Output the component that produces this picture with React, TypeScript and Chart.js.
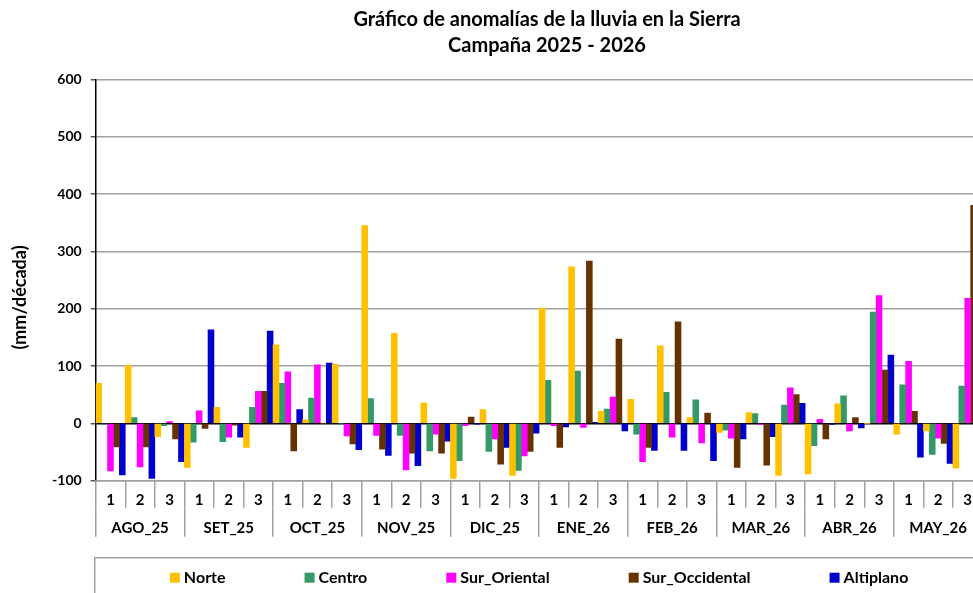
import React, { useEffect, useRef } from 'react';
import { Chart, registerables } from 'chart.js';

Chart.register(...registerables);

const FONT = 'Lato, "Open Sans", sans-serif';

const months = ['AGO_25', 'SET_25', 'OCT_25', 'NOV_25', 'DIC_25', 'ENE_26', 'FEB_26', 'MAR_26', 'ABR_26', 'MAY_26'];
const decades = ['1', '2', '3'];
const decadeLabels = months.flatMap(() => decades);
const monthLabels = months.flatMap((m) => ['', m, '']);

const titleLines = ['Gráfico de anomalías de la lluvia en la Sierra', 'Campaña 2025 - 2026'];
const yTitle = '(mm/década)';
const yMin = -100;
const yMax = 600;
const yStep = 100;

const seriesNames = ['Norte', 'Centro', 'Sur_Oriental', 'Sur_Occidental', 'Altiplano'];
const seriesColors = ['#FFC000', '#339966', '#FF00FF', '#663300', '#0000CC'];

const norte = [70, 101, -23, -77, 28, -42, 137, 6, 103, 345, 157, 36, -96, 24, -91, 201, 273, 21, 42, 135, 10, -16, 19, -91, -88, 34, 0, -19, -13, -78];
const centro = [-2, 10, -4, -33, -32, 28, 70, 44, -1, 43, -21, -48, -65, -49, -82, 75, 91, 25, -19, 54, 41, -12, 17, 32, -39, 48, 194, 67, -54, 65];
const surOriental = [-83, -76, 3, 22, -24, 56, 90, 102, -22, -21, -81, -19, -4, -27, -57, -4, -7, 46, -67, -24, -34, -26, -2, 62, 7, -13, 223, 108, -26, 218];
const surOccidental = [-41, -41, -27, -9, -3, 56, -48, 0, -36, -45, -52, -52, 11, -71, -49, -42, 283, 147, -42, 177, 18, -77, -73, 50, -27, 10, 93, 21, -35, 380];
const altiplano = [-90, -96, -67, 163, -24, 161, 24, 105, -46, -56, -74, -31, -1, -42, -17, -6, 2, -13, -47, -47, -65, -27, -23, 35, -2, -8, 119, -59, -70, null];

const seriesData = [norte, centro, surOriental, surOccidental, altiplano];

const GRID = '#a0a0a0';

const boxLegend = {
  id: 'boxLegend',
  afterDraw(chart: any) {
    const { ctx, chartArea, scales } = chart;
    const top = scales.x2.bottom;
    ctx.save();
    ctx.strokeStyle = GRID;
    ctx.lineWidth = 1.5;
    ctx.strokeRect(chartArea.left - 1, top, chart.width, 200);
    ctx.font = `bold 16px ${FONT}`;
    const box = 10;
    const gapText = 4;
    const gapItem = 79;
    const items = chart.data.datasets.map((ds: any) => ({
      text: ds.label,
      color: ds.backgroundColor,
      w: ctx.measureText(ds.label).width,
    }));
    const total = items.reduce((s: number, it: any) => s + box + gapText + it.w, 0) + gapItem * (items.length - 1);
    let x = (chartArea.left + chartArea.right) / 2 - total / 2;
    const cy = top + 20;
    ctx.textBaseline = 'middle';
    ctx.textAlign = 'left';
    items.forEach((it: any) => {
      ctx.fillStyle = it.color;
      ctx.fillRect(x, cy - 5, box, box);
      x += box + gapText;
      ctx.fillStyle = '#000';
      ctx.fillText(it.text, x, cy);
      x += it.w + gapItem;
    });
    ctx.restore();
  },
};

export default function App() {
  const ref = useRef<HTMLCanvasElement | null>(null);

  useEffect(() => {
    if (!ref.current) return;
    Chart.defaults.font.family = FONT;
    const chart = new Chart(ref.current, {
      type: 'bar',
      data: {
        labels: decadeLabels,
        datasets: seriesNames.map((name, i) => ({
          label: name,
          data: seriesData[i],
          backgroundColor: seriesColors[i],
          borderWidth: 0,
          categoryPercentage: 1,
          barPercentage: 1,
        })),
      },
      options: {
        responsive: false,
        animation: false,
        devicePixelRatio: 1,
        layout: { padding: { left: 0, right: 0, top: 0, bottom: 35.3 } },
        plugins: {
          legend: { display: false },
          tooltip: { enabled: false },
          title: {
            display: true,
            text: titleLines,
            color: '#000',
            font: { family: FONT, size: 20, weight: 'bold', lineHeight: '26px' },
            padding: { top: 7, bottom: 20.3 },
          },
        },
        scales: {
          y: {
            min: yMin,
            max: yMax,
            ticks: { stepSize: yStep, color: '#000', padding: 9, font: { family: FONT, size: 14, weight: 'bold' } },
            grid: {
              color: (c: any) => (c.tick && c.tick.value === 0 ? '#000' : GRID),
              lineWidth: 1.5,
              tickLength: 5,
              tickColor: '#555',
            },
            border: { color: '#000', width: 1.5 },
            title: {
              display: true,
              text: yTitle + '\u00A0'.repeat(8),
              color: '#000',
              font: { family: FONT, size: 18, weight: 'bold' },
              padding: { top: 9, bottom: 0 },
            },
            afterFit: (s: any) => {
              s.width = 95.7;
            },
          },
          x: {
            type: 'category',
            offset: true,
            grid: { offset: true, drawOnChartArea: false, tickLength: 27, color: GRID, lineWidth: 1.5 },
            border: { color: GRID, width: 1.5 },
            ticks: { autoSkip: false, maxRotation: 0, padding: -16.7, color: '#000', font: { family: FONT, size: 15, weight: 'bold' } },
            afterFit: (s: any) => {
              s.height = 27;
            },
          },
          x2: {
            type: 'category',
            axis: 'x',
            position: 'bottom',
            weight: 1,
            labels: monthLabels,
            offset: true,
            grid: {
              offset: true,
              drawOnChartArea: false,
              tickLength: 29,
              lineWidth: 1.5,
              color: (c: any) => (c.index !== undefined && c.index % 3 === 0 ? GRID : 'rgba(0,0,0,0)'),
            },
            border: { display: false },
            ticks: { autoSkip: false, maxRotation: 0, padding: -17.7, color: '#000', font: { family: FONT, size: 15, weight: 'bold' } },
            afterFit: (s: any) => {
              s.height = 50;
            },
          },
          yR: {
            type: 'linear',
            axis: 'y',
            position: 'right',
            display: true,
            grid: { display: false, drawTicks: false },
            ticks: { display: false },
            border: { display: false },
            afterFit: (s: any) => {
              s.width = 111.5;
            },
          },
        },
      } as any,
      plugins: [boxLegend],
    });
    return () => chart.destroy();
  }, []);

  return (
    <div style={{ position: 'absolute', left: 0, top: 0, width: 973, height: 593, overflow: 'hidden', background: '#fff' }}>
      <canvas ref={ref} width={1094} height={593} style={{ display: 'block', width: 1094, height: 593 }} />
    </div>
  );
}
